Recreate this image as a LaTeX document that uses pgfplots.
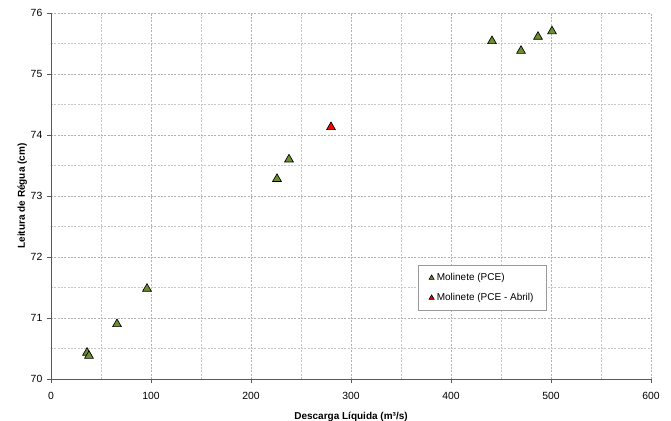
\documentclass[border=0pt]{standalone}
\usepackage{pgfplots}
\pgfplotsset{compat=1.18}
\usepackage{fontspec}
\setmainfont{Liberation Sans}
\definecolor{olivegreen}{RGB}{107,142,47}
\begin{document}
\begin{tikzpicture}
\path[use as bounding box] (-38.25pt,-31.5pt) rectangle (465pt,284.25pt);
\begin{axis}[
  at={(0,0)}, anchor=south west,
  scale only axis, width=450pt, height=274.5pt,
  xmin=0, xmax=600, ymin=70, ymax=76,
  xtick={0,100,...,600}, ytick={70,71,...,76},
  minor xtick={50,150,...,550}, minor ytick={70.5,71.5,...,75.5},
  grid=both,
  axis lines=left,
  major grid style={gray!60, dash pattern=on 1.5pt off 1pt, line width=0.4pt},
  minor grid style={gray!45, dash pattern=on 1.5pt off 1pt, line width=0.4pt},
  axis line style={gray!70!black, line width=0.6pt, -},
  tick style={gray!70!black, line width=0.6pt},
  tick align=outside, major tick length=3pt, minor tick length=0pt,
  /pgf/number format/assume math mode=true,
  ticklabel style={font=\fontsize{7.8}{9}\selectfont},
  xticklabel style={yshift=-3.5pt},
  yticklabel style={xshift=0pt},
  xlabel={\bfseries Descarga Líquida (m³/s)},
  ylabel={\bfseries Leitura de Régua (cm)},
  label style={font=\fontsize{7.5}{9}\selectfont},
  xlabel style={yshift=-2.5pt},
  ylabel style={yshift=-4pt},
  legend style={at={(0.6117,0.3117)}, anchor=north west, draw=gray!80,
    font=\fontsize{7.5}{9}\selectfont, row sep=4pt, inner xsep=8pt, inner ysep=4pt,
    line width=0.6pt},
  legend cell align=left,
  legend image code/.code={\draw[#1, mark size=2.2pt, line width=0.3pt] plot coordinates {(0.1cm,0cm)};},
]
\addplot[only marks, mark=triangle*, mark size=3.8pt, mark options={fill=olivegreen, draw=black, line width=0.5pt}]
  coordinates {(36,70.43) (38,70.38) (66,70.90) (96,71.48) (226,73.28) (238,73.60) (441,75.54) (470,75.38) (487,75.61) (501,75.70)};
\addlegendentry{Molinete (PCE)}
\addplot[only marks, mark=triangle*, mark size=3.8pt, mark options={fill=red, draw=black, line width=0.5pt}]
  coordinates {(280,74.13)};
\addlegendentry{Molinete (PCE - Abril)}
\end{axis}
\end{tikzpicture}
\end{document}
